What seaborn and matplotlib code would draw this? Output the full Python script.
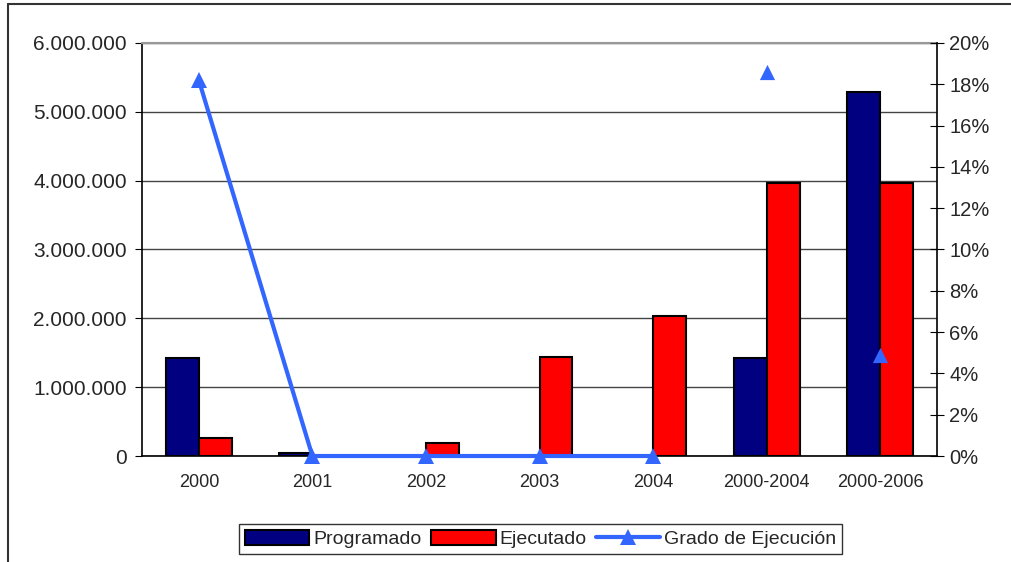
import matplotlib
matplotlib.use("Agg")
import matplotlib.pyplot as plt
import matplotlib.lines as mlines
import matplotlib.patches as mpatches
import seaborn as sns
import pandas as pd

sns.set_style("white")
plt.rcParams['font.family'] = ['Liberation Sans', 'DejaVu Sans']

years = ["2000", "2001", "2002", "2003", "2004", "2000-2004", "2000-2006"]
programado = [1424000, 40000, 0, 0, 0, 1424000, 5290000]
ejecutado = [260000, 0, 190000, 1440000, 2030000, 3960000, 3960000]
grado = [18.2, 0, 0, 0, 0, 18.6, 4.9]

df = pd.DataFrame({
    "year": years * 2,
    "valor": programado + ejecutado,
    "serie": ["Programado"] * len(years) + ["Ejecutado"] * len(years),
})

fig = plt.figure(figsize=(10.11, 5.62), dpi=100)
ax = fig.add_axes([0.1405, 0.1886, 0.7863, 0.7349])

sns.barplot(data=df, x="year", y="valor", hue="serie", order=years,
            hue_order=["Programado", "Ejecutado"],
            palette={"Programado": "#000080", "Ejecutado": "#ff0000"},
            saturation=1, width=0.58, edgecolor="black", linewidth=1.5,
            ax=ax, legend=False)

ax.set_ylim(0, 6000000)
ax.set_xlim(-0.5, 6.5)
ax.set_yticks(range(0, 6000001, 1000000))
ax.set_yticklabels(["0" if v == 0 else f"{v:,}".replace(",", ".") for v in range(0, 6000001, 1000000)])
ax.yaxis.grid(True, color="#444444", linewidth=1)
ax.set_axisbelow(True)
ax.set_xlabel("")
ax.set_ylabel("")
ax.tick_params(axis="y", direction="out", length=5, labelsize=15, color="black", pad=6)
ax.set_xticks([i - 0.5 for i in range(8)], minor=True)
ax.set_xticks(range(7))
ax.set_xticklabels(years)
ax.tick_params(axis="x", which="major", length=0, labelsize=13, pad=13)
ax.tick_params(axis="x", which="minor", direction="out", length=6, color="black")
for s in ["left", "bottom"]:
    ax.spines[s].set_color("black")
    ax.spines[s].set_linewidth(1.2)
ax.spines["top"].set_color("#999999")
ax.spines["top"].set_linewidth(1.5)
ax.spines["right"].set_visible(False)

ax2 = ax.twinx()
line_color = "#3366ff"
sns.lineplot(x=list(range(5)), y=grado[:5], ax=ax2, color=line_color, linewidth=3,
             marker="^", markersize=11, markeredgewidth=0)
sns.scatterplot(x=[5, 6], y=grado[5:], ax=ax2, color=line_color, marker="^", s=120, linewidth=0)
ax2.set_ylim(0, 20)
ax2.set_yticks(range(0, 21, 2))
ax2.set_yticklabels([f"{v}%" for v in range(0, 21, 2)])
ax2.tick_params(axis="y", direction="inout", length=10, labelsize=14.5, color="black", pad=4)
ax2.spines["right"].set_color("black")
ax2.spines["right"].set_linewidth(1.2)
for s in ["left", "top", "bottom"]:
    ax2.spines[s].set_visible(False)
ax2.set_xlim(-0.5, 6.5)
for t in ax2.lines:
    t.set_clip_on(False)
for c in ax2.collections:
    c.set_clip_on(False)

handles = [
    mpatches.Patch(facecolor="#000080", edgecolor="black", linewidth=1.5, label="Programado"),
    mpatches.Patch(facecolor="#ff0000", edgecolor="black", linewidth=1.5, label="Ejecutado"),
    mlines.Line2D([], [], color=line_color, linewidth=3, marker="^", markersize=11,
                  markeredgewidth=0, label="Grado de Ejecución"),
]
leg = fig.legend(handles=handles, loc="center", bbox_to_anchor=(0.535, 0.0409), ncol=3,
                 frameon=True, fancybox=False, edgecolor="black", fontsize=14,
                 handlelength=3.3, handleheight=0.8, handletextpad=0.2, columnspacing=0.5,
                 borderpad=0.3, borderaxespad=0)
leg.get_frame().set_linewidth(1)

# outer frame of the chart area
fig.add_artist(mlines.Line2D([8 / 1011, 8 / 1011], [0, 1 - 4 / 562], transform=fig.transFigure,
                             color="#333333", linewidth=1.5))
fig.add_artist(mlines.Line2D([8 / 1011, 1], [1 - 4 / 562, 1 - 4 / 562], transform=fig.transFigure,
                             color="#333333", linewidth=1.5))

fig.savefig("out.png", dpi=100)
